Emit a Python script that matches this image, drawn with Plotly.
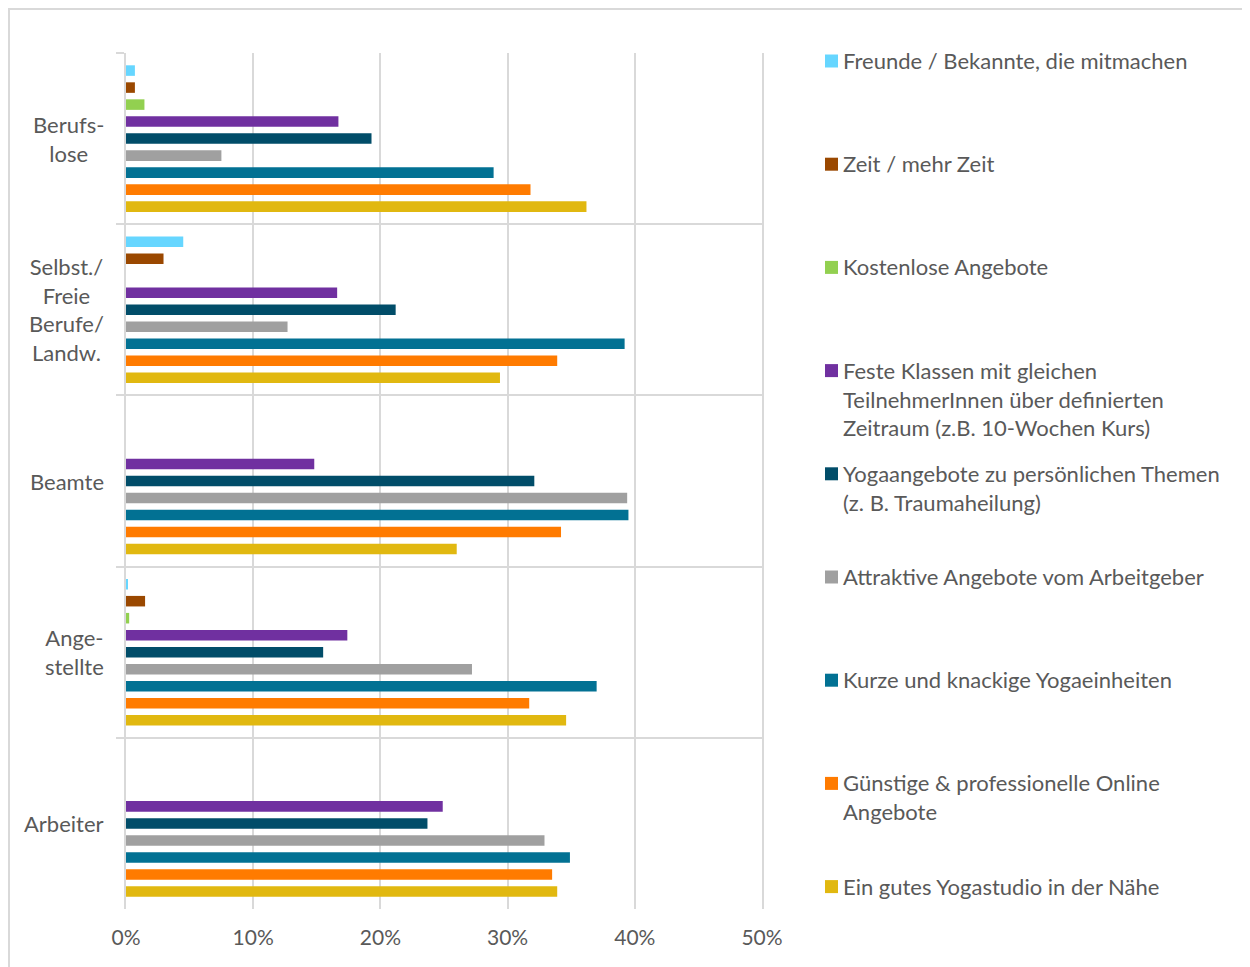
import plotly.graph_objects as go

# categories, top to bottom
groups = ["Berufslose", "Selbst./Freie Berufe/Landw.", "Beamte", "Angestellte", "Arbeiter"]
group_labels = ["Berufs-<br>lose", "Selbst./<br>Freie<br>Berufe/<br>Landw.", "Beamte", "Ange-<br>stellte", "Arbeiter"]

series_names = [
    "Freunde / Bekannte, die mitmachen",
    "Zeit / mehr Zeit",
    "Kostenlose Angebote",
    "Feste Klassen mit gleichen<br>TeilnehmerInnen über definierten<br>Zeitraum (z.B. 10-Wochen Kurs)",
    "Yogaangebote zu persönlichen Themen<br>(z. B. Traumaheilung)",
    "Attraktive Angebote vom Arbeitgeber",
    "Kurze und knackige Yogaeinheiten",
    "Günstige & professionelle Online<br>Angebote",
    "Ein gutes Yogastudio in der Nähe",
]
colors = ["#66D6FF", "#9A4800", "#92D050", "#7030A0", "#014D69",
          "#A0A0A0", "#027193", "#FF7B00", "#E1B810"]

# values in % per series, order of groups
freunde = [0.7, 4.5, 0.0, 0.15, 0.0]
zeit = [0.7, 2.95, 0.0, 1.5, 0.0]
kostenlos = [1.45, 0.0, 0.0, 0.25, 0.0]
feste = [16.7, 16.6, 14.8, 17.4, 24.9]
themen = [19.3, 21.2, 32.1, 15.5, 23.7]
arbeitgeber = [7.5, 12.7, 39.4, 27.2, 32.9]
kurz = [28.9, 39.2, 39.5, 37.0, 34.9]
online = [31.8, 33.9, 34.2, 31.7, 33.5]
studio = [36.2, 29.4, 26.0, 34.6, 33.9]
values = [freunde, zeit, kostenlos, feste, themen, arbeitgeber, kurz, online, studio]

# the page body adds an 8px margin, so the figure is drawn 8px in
OFF = 8
W, H = 1250 - OFF, 967 - OFF
L, R, T, B = 126, 762, 53, 909   # plot area in screen pixels
FONT = "Lato"
TXT = "#595959"
GRID = "#d9d9d9"


def px(x):
    return (x - L) / (R - L)


def py(y):
    return (B - y) / (B - T)


fig = go.Figure()
for name, vals, col in zip(series_names, values, colors):
    fig.add_trace(go.Bar(
        y=groups, x=[v / 100 for v in vals], name=name, orientation="h",
        marker=dict(color=col, line=dict(width=0)),
    ))

# category labels, centered multi-line like the original
for g, lab in zip(groups, group_labels):
    fig.add_annotation(x=px(106), xref="paper", y=g, yref="y", text=lab,
                       showarrow=False, xanchor="right", yanchor="middle",
                       align="center", font=dict(family=FONT, size=22, color=TXT))

# manual legend, evenly spaced like the original
for i, (name, col) in enumerate(zip(series_names, colors)):
    cy = 61 + i * 103.2
    fig.add_shape(type="rect", xref="paper", yref="paper",
                  x0=px(825), x1=px(838), y0=py(cy - 6.5), y1=py(cy + 6.5),
                  fillcolor=col, line=dict(width=0))
    fig.add_annotation(x=px(841), xref="paper", y=py(cy - 16), yref="paper",
                       text=name, showarrow=False, xanchor="left", yanchor="top",
                       align="left", font=dict(family=FONT, size=22, color=TXT))

# outer chart frame
fig.add_shape(type="rect", xref="paper", yref="paper",
              x0=px(9), x1=px(1270), y0=py(990), y1=py(9),
              line=dict(color=GRID, width=2), fillcolor="rgba(0,0,0,0)")

fig.update_layout(
    width=W, height=H,
    margin=dict(l=L - OFF, r=W + OFF - R, t=T - OFF, b=H + OFF - B),
    paper_bgcolor="white", plot_bgcolor="white",
    barmode="group", bargap=0.106, bargroupgap=0.38,
    showlegend=False,
    font=dict(family=FONT, size=21, color=TXT),
    xaxis=dict(range=[0, 0.5], dtick=0.1, tickformat=".0%",
               showgrid=True, gridcolor=GRID, gridwidth=2,
               zeroline=False, showline=False,
               ticks="", ticklabelstandoff=14,
               tickfont=dict(family=FONT, size=21, color=TXT)),
    yaxis=dict(autorange="reversed", type="category", tickson="boundaries",
               showgrid=True, gridcolor=GRID, gridwidth=2,
               ticks="outside", ticklen=8, tickcolor=GRID, tickwidth=2,
               showticklabels=False, zeroline=False,
               showline=True, mirror=True, linecolor=GRID, linewidth=2),
)

fig.write_html("out.html")
